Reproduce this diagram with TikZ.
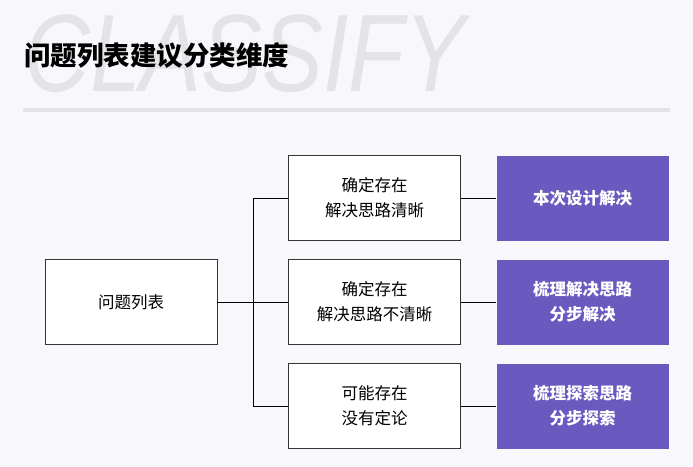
\documentclass[tikz,border=0pt]{standalone}
\usepackage{fontspec}
\setmainfont{Noto Sans CJK SC}
\newfontfamily\bigfont{Liberation Sans}
\usetikzlibrary{positioning}
\definecolor{pagebg}{HTML}{F8F7FC}
\definecolor{mypurple}{HTML}{6A5ABF}
\definecolor{lightgray}{HTML}{E4E3E6}
\tikzset{
  box/.style={draw=black!80,line width=0.6pt,fill=white,minimum width=172pt,minimum height=85pt,align=center,font=\fontsize{16.5}{25}\selectfont,inner sep=0pt},
  box purple/.style={box,draw=none,fill=mypurple,text=white,font=\fontsize{16.5}{25}\selectfont\bfseries},
  connect/.style={line width=0.8pt,black}
}
\begin{document}
\begin{tikzpicture}[x=1pt,y=-1pt]
  \fill[pagebg] (0,0) rectangle (693,466);
  \useasboundingbox (0,0) rectangle (693,466);
  % --- heading ---
  \node[anchor=west,text=lightgray,font=\bigfont\itshape\fontsize{110}{110}\selectfont,inner sep=0pt,xscale=0.83] (bg-word) at (24,54) {CLASSIFY};
  \node[anchor=west,font=\fontsize{26.5}{26.5}\selectfont\bfseries,inner sep=0pt] (title) at (24,56) {问题列表建议分类维度};
  \fill[lightgray] (23,108) rectangle (670,112);
  % --- boxes ---
  \node[box] (root) at (131,302) {问题列表};
  \node[box] (M1) at (374.5,198) {确定存在\\解决思路清晰};
  \node[box] (M2) at (374.5,302) {确定存在\\解决思路不清晰};
  \node[box] (M3) at (374.5,406) {可能存在\\没有定论};
  \node[box purple] (R1) at (582.5,198) {本次设计解决};
  \node[box purple] (R2) at (582.5,302) {梳理解决思路\\分步解决};
  \node[box purple] (R3) at (582.5,406) {梳理探索思路\\分步探索};
  % --- connectors ---
  \coordinate (split) at (253,302);
  \draw[connect] (root) -- (M2);
  \foreach \i in {1,3} {
    \draw[connect] (split) |- (M\i);
  }
  \foreach \i in {1,2,3} {
    \draw[connect] (M\i) -- (R\i);
  }
\end{tikzpicture}
\end{document}
